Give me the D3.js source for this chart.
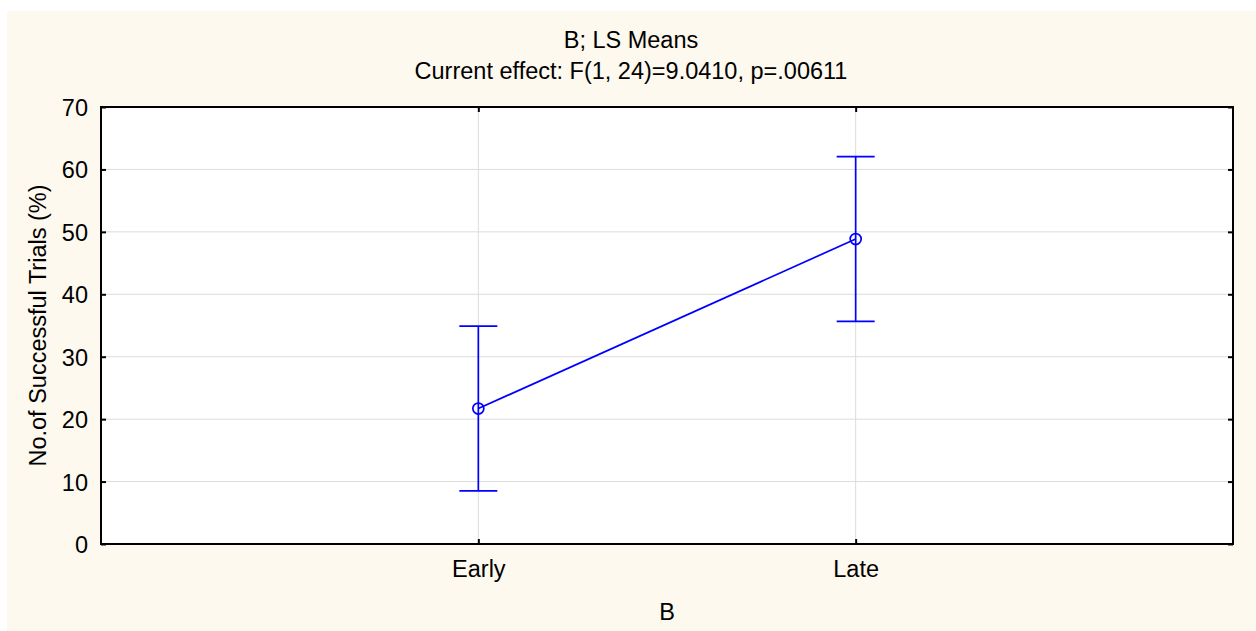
<!DOCTYPE html>
<html>
<head>
<meta charset="utf-8">
<script src="https://cdn.jsdelivr.net/npm/d3@7"></script>
<style>
	body { margin: 0; background: #fff; }
	text { font-family: "Liberation Sans", Arial, sans-serif; fill: #000; }
</style>
</head>
<body>
<div id="chart"></div>
<script>
var categories = ["Early", "Late"];
var means = [21.7, 48.85];
var lower = [8.5, 35.65];
var upper = [34.9, 62.05];
var yTicks = [0, 10, 20, 30, 40, 50, 60, 70];
var titleLines = ["B; LS Means", "Current effect: F(1, 24)=9.0410, p=.00611"];
var xTitle = "B";
var yTitle = "No.of Successful Trials (%)";

var width = 1256, height = 631;
var margin = {top: 107, right: 23, bottom: 87, left: 101};
var fontSize = 23.5;

var svg = d3.select("#chart").append("svg")
	.attr("width", width)
	.attr("height", height);

// cream panel
svg.append("rect")
	.attr("x", 7).attr("y", 11)
	.attr("width", width - 7).attr("height", height - 11)
	.attr("fill", "#fdf9ee");

var x = d3.scalePoint()
	.domain(categories)
	.range([margin.left, width - margin.right])
	.padding(1);

var y = d3.scaleLinear()
	.domain([0, 70])
	.range([height - margin.bottom, margin.top]);

var x0 = margin.left, x1 = width - margin.right;
var y0 = height - margin.bottom, y1 = margin.top;

svg.append("rect")
	.attr("x", x0).attr("y", y1)
	.attr("width", x1 - x0).attr("height", y0 - y1)
	.attr("fill", "#fff");

// grid
svg.append("g").selectAll("line")
	.data(yTicks.slice(1, -1))
	.enter().append("line")
		.attr("x1", x0).attr("x2", x1)
		.attr("y1", function(d) { return y(d); })
		.attr("y2", function(d) { return y(d); })
		.attr("stroke", "#dcdcdc").attr("stroke-width", 1);

svg.append("g").selectAll("line")
	.data(categories)
	.enter().append("line")
		.attr("x1", function(d) { return x(d); })
		.attr("x2", function(d) { return x(d); })
		.attr("y1", y1).attr("y2", y0)
		.attr("stroke", "#dcdcdc").attr("stroke-width", 1);

// axes with inward ticks
var yAxisL = svg.append("g")
	.attr("transform", "translate(" + x0 + ",0)")
	.call(d3.axisLeft(y).tickValues(yTicks).tickSize(-5).tickPadding(13));
var yAxisR = svg.append("g")
	.attr("transform", "translate(" + x1 + ",0)")
	.call(d3.axisRight(y).tickValues(yTicks).tickSize(-5).tickFormat(""));
var xAxisB = svg.append("g")
	.attr("transform", "translate(0," + y0 + ")")
	.call(d3.axisBottom(x).tickSize(-5).tickPadding(16));
var xAxisT = svg.append("g")
	.attr("transform", "translate(0," + y1 + ")")
	.call(d3.axisTop(x).tickSize(-5).tickFormat(""));

[yAxisL, yAxisR, xAxisB, xAxisT].forEach(function(a) {
	a.select(".domain").remove();
	a.selectAll(".tick line").attr("stroke", "#000").attr("stroke-width", 2);
	a.selectAll("text")
		.style("font-family", "'Liberation Sans', Arial, sans-serif")
		.style("font-size", fontSize + "px")
		.attr("fill", "#000");
});
yAxisL.selectAll("text").attr("dy", "0.36em");

// frame
svg.append("rect")
	.attr("x", x0).attr("y", y1)
	.attr("width", x1 - x0).attr("height", y0 - y1)
	.attr("fill", "none")
	.attr("stroke", "#000").attr("stroke-width", 2);

// data
var blue = "#0000ff";
var capHalf = 19;
var g = svg.append("g");

g.selectAll(".err")
	.data(categories)
	.enter().append("line")
		.attr("x1", function(d) { return x(d); })
		.attr("x2", function(d) { return x(d); })
		.attr("y1", function(d, i) { return y(lower[i]); })
		.attr("y2", function(d, i) { return y(upper[i]); })
		.attr("stroke", blue).attr("stroke-width", 1.7);

[lower, upper].forEach(function(arr) {
	g.selectAll(null)
		.data(categories)
		.enter().append("line")
			.attr("x1", function(d) { return x(d) - capHalf; })
			.attr("x2", function(d) { return x(d) + capHalf; })
			.attr("y1", function(d, i) { return y(arr[i]); })
			.attr("y2", function(d, i) { return y(arr[i]); })
			.attr("stroke", blue).attr("stroke-width", 1.7);
});

var line = d3.line()
	.x(function(d, i) { return x(categories[i]); })
	.y(function(d) { return y(d); });

g.append("path")
	.datum(means)
	.attr("d", line)
	.attr("fill", "none")
	.attr("stroke", blue).attr("stroke-width", 1.7);

g.selectAll("circle")
	.data(means)
	.enter().append("circle")
		.attr("cx", function(d, i) { return x(categories[i]); })
		.attr("cy", function(d) { return y(d); })
		.attr("r", 5.5)
		.attr("fill", "none")
		.attr("stroke", blue).attr("stroke-width", 1.7);

// titles
svg.selectAll(".title")
	.data(titleLines)
	.enter().append("text")
		.attr("class", "title")
		.attr("x", 631)
		.attr("y", function(d, i) { return 48 + i * 31; })
		.attr("text-anchor", "middle")
		.style("font-size", fontSize + "px")
		.text(function(d) { return d; });

svg.append("text")
	.attr("x", (x0 + x1) / 2)
	.attr("y", 620)
	.attr("text-anchor", "middle")
	.style("font-size", fontSize + "px")
	.text(xTitle);

svg.append("text")
	.attr("transform", "translate(46," + ((y0 + y1) / 2) + ") rotate(-90)")
	.attr("text-anchor", "middle")
	.style("font-size", fontSize + "px")
	.text(yTitle);
</script>
</body>
</html>
